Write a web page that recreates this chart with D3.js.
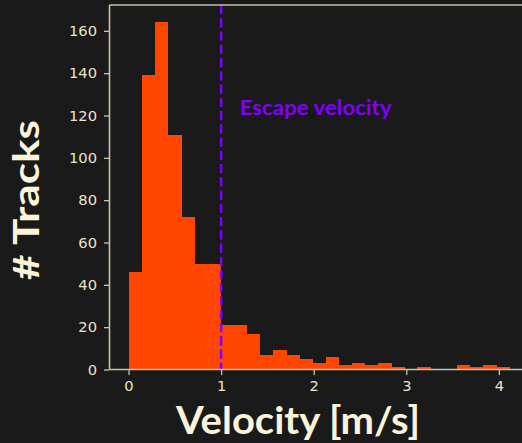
<!DOCTYPE html>
<html>
<head>
<meta charset="utf-8">
<script src="https://cdn.jsdelivr.net/npm/d3@7"></script>
<style>
  html, body { margin: 0; padding: 0; background: #1a1a1a; }
  svg { display: block; }
</style>
</head>
<body>
<svg id="chart" width="522" height="443"></svg>
<script>
// Histogram of track velocities (counts per bin)
const binStart = 0;           // m/s, left edge of first bin
const binWidth = 0.14183;     // m/s
const counts = [46, 139, 164, 111, 72, 50, 50, 21, 21, 17, 7, 9, 7, 5, 3, 6, 2, 3, 2, 3, 1, 0, 1, 0, 0, 2, 1, 2, 1];
const xTicks = [0, 1, 2, 3, 4];
const yTicks = [0, 20, 40, 60, 80, 100, 120, 140, 160];
const escapeVelocity = 1.0;   // m/s
const escapeLabel = "Escape velocity";
const xLabel = "Velocity [m/s]";
const yLabel = "# Tracks";

const bins = counts.map((c, i) => ({
  x0: binStart + i * binWidth,
  x1: binStart + (i + 1) * binWidth,
  count: c
}));

const plot = { left: 109.5, right: 528.4, top: 5, bottom: 369.5 };
const xMax = bins[bins.length - 1].x1;
const pad = 0.05 * (xMax - binStart);

const x = d3.scaleLinear().domain([binStart - pad, xMax + pad]).range([plot.left, plot.right]);
const y = d3.scaleLinear().domain([0, d3.max(counts) * 1.05]).range([plot.bottom, plot.top]);

const svg = d3.select("#chart");
svg.append("rect").attr("width", 522).attr("height", 443).attr("fill", "#1a1a1a");

const axisColor = "#c9c2aa";
const tickText = "#ebe3cb";
const labelText = "#fbf3da";

// bars (slightly widened so neighbouring bins merge without seams)
svg.append("g").attr("shape-rendering", "crispEdges").selectAll("rect").data(bins.filter(d => d.count > 0)).join("rect")
  .attr("x", d => x(d.x0))
  .attr("y", d => y(d.count))
  .attr("width", d => x(d.x1) - x(d.x0) + 0.5)
  .attr("height", d => y(0) - y(d.count))
  .attr("fill", "#ff4500");

// escape velocity marker
svg.append("line")
  .attr("x1", x(escapeVelocity)).attr("x2", x(escapeVelocity))
  .attr("y1", plot.top).attr("y2", plot.bottom)
  .attr("stroke", "#7f00ff")
  .attr("stroke-width", 2.5)
  .attr("stroke-dasharray", "9.25 4");

svg.append("text")
  .attr("x", x(1.2)).attr("y", y(120.4))
  .attr("fill", "#7f00ff")
  .attr("font-family", "Lato, 'DejaVu Sans', sans-serif")
  .attr("font-weight", 700)
  .attr("font-size", 20.5)
  .attr("textLength", 152)
  .attr("lengthAdjust", "spacingAndGlyphs")
  .text(escapeLabel);

// axes
const xAxis = d3.axisBottom(x).tickValues(xTicks).tickSize(5.5).tickPadding(6).tickFormat(d3.format("d"));
const yAxis = d3.axisLeft(y).tickValues(yTicks).tickSize(5.5).tickPadding(7).tickFormat(d3.format("d"));

const gx = svg.append("g").attr("transform", `translate(0,${plot.bottom})`).call(xAxis);
const gy = svg.append("g").attr("transform", `translate(${plot.left},0)`).call(yAxis);

[gx, gy].forEach(g => {
  g.select(".domain").remove();
  g.selectAll(".tick line").attr("stroke", axisColor).attr("stroke-width", 1.3);
  g.selectAll(".tick text")
    .attr("fill", tickText)
    .attr("font-family", "'DejaVu Sans', sans-serif")
    .attr("font-size", 14.7);
});

// spines
const spine = (x1, y1, x2, y2) => svg.append("line")
  .attr("x1", x1).attr("y1", y1).attr("x2", x2).attr("y2", y2)
  .attr("stroke", axisColor).attr("stroke-width", 1.6);
spine(plot.left, plot.top, plot.right, plot.top);
spine(plot.left, plot.bottom, plot.right, plot.bottom);
spine(plot.left, plot.top, plot.left, plot.bottom);
spine(plot.right, plot.top, plot.right, plot.bottom);

// axis titles
svg.append("text")
  .attr("x", 298).attr("y", 434)
  .attr("text-anchor", "middle")
  .attr("fill", labelText)
  .attr("font-family", "Lato, 'DejaVu Sans', sans-serif")
  .attr("font-weight", 700)
  .attr("font-size", 38)
  .attr("textLength", 244)
  .attr("lengthAdjust", "spacingAndGlyphs")
  .text(xLabel);

svg.append("text")
  .attr("transform", "translate(38.5,200) rotate(-90)")
  .attr("text-anchor", "middle")
  .attr("fill", labelText)
  .attr("font-family", "Lato, 'DejaVu Sans', sans-serif")
  .attr("font-weight", 700)
  .attr("font-size", 37)
  .attr("textLength", 160)
  .attr("lengthAdjust", "spacingAndGlyphs")
  .text(yLabel);
</script>
</body>
</html>
